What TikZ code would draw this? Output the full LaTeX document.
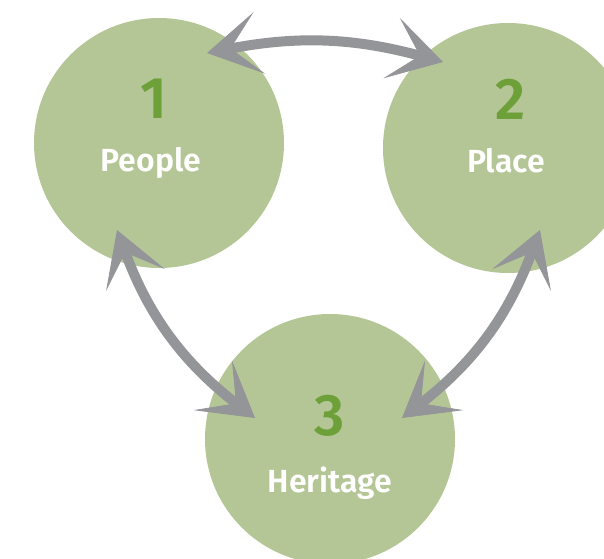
\documentclass[tikz,border=0pt]{standalone}
\usepackage{fontspec}
\setmainfont{Fira Sans}[BoldFont={Fira Sans SemiBold}]
\definecolor{leaf}{RGB}{181,198,150}
\definecolor{moss}{RGB}{110,160,58}
\definecolor{stone}{RGB}{147,149,153}
\usetikzlibrary{
	arrows.meta,
	positioning,
	calc
}
\tikzset{
  % circle
	cstcircle/.style   ={circle,fill=leaf,minimum size=187.5pt,inner sep=0pt},
  % text
	cstnum/.style      ={anchor=base,text=moss,font=\fontsize{44}{44}\selectfont\bfseries},
	cstlabel/.style    ={anchor=base,text=white,font=\fontsize{24}{24}\selectfont\bfseries},
  % arrow
	cstlink/.style     ={draw=stone,line width=7.5pt,
		{Stealth[line width=0.6pt,length=40pt,width=47pt,inset=22pt]}-{Stealth[line width=0.6pt,length=40pt,width=47pt,inset=22pt]}}
}
\begin{document}
\begin{tikzpicture}[x=0.75pt,y=0.75pt]
	\useasboundingbox (0,0) rectangle (604,558);
	% circles
	\node[cstcircle] (people)   at (159,415) {};
	\node[cstcircle] (place)    at (508,410) {};
	\node[cstcircle] (heritage) at (330,119) {};
	% texts
	\node[cstnum]   (num1) at (154,439) {1};
	\node[cstlabel] (lab1) at (151,386) {People};
	\node[cstnum]   (num2) at (511,438) {2};
	\node[cstlabel] (lab2) at (506,385) {Place};
	\node[cstnum]   (num3) at (330,123) {3};
	\node[cstlabel] (lab3) at (330,66)  {Heritage};
	% arrow ends
	\coordinate (a1) at (207,505);
	\coordinate (a2) at (443,496);
	\coordinate (b1) at (117,328);
	\coordinate (b2) at (255,140);
	\coordinate (c1) at (540,328);
	\coordinate (c2) at (402,140);
	% arrows
	\draw[cstlink] (a1) to[bend left=13] (a2);
	\draw[cstlink] (b1) to[bend right=16] (b2);
	\draw[cstlink] (c1) to[bend left=16] (c2);
\end{tikzpicture}
\end{document}
